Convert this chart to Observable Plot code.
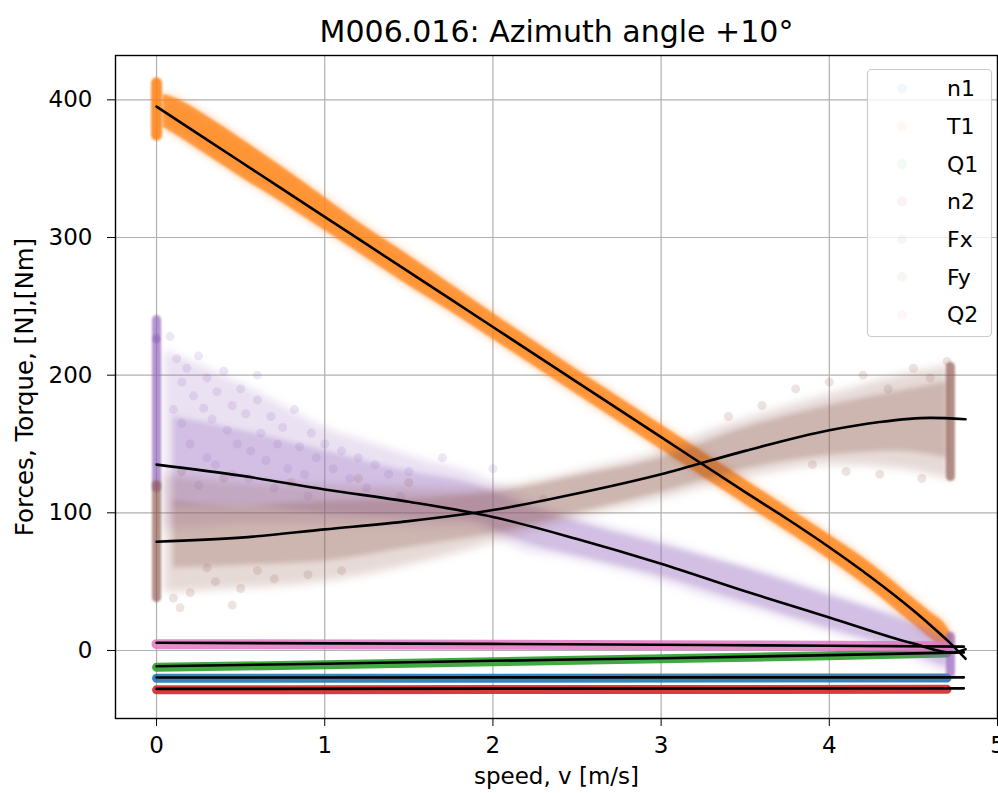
<!DOCTYPE html>
<html>
<head>
<meta charset="utf-8">
<script src="https://cdn.jsdelivr.net/npm/d3@7"></script>
<script src="https://cdn.jsdelivr.net/npm/@observablehq/plot@0.6"></script>
<style>
  html, body { margin: 0; padding: 0; background: white; }
  #chart { width: 998px; height: 793px; }
</style>
</head>
<body>
<div id="chart"></div>
<script>
// ---------- data ----------
const titleText = "M006.016: Azimuth angle +10°";
const xLabel = "speed, v [m/s]";
const yLabel = "Forces, Torque, [N],[Nm]";
const xTicks = [0, 1, 2, 3, 4, 5];
const yTicks = [0, 100, 200, 300, 400];
const xDomain = [-0.244, 5.0];
const yDomain = [-49.4, 432.2];

const seriesNames = ["n1", "T1", "Q1", "n2", "Fx", "Fy", "Q2"];
const seriesColors = ["#1f77b4", "#ff7f0e", "#2ca02c", "#d62728", "#9467bd", "#8c564b", "#e377c2"];

// dense thin clouds (centre of the measured points) [v, value]
const n1Points = [[0, -20.2], [2, -20.1], [4.7, -20.0]];
const n2Points = [[0, -28.6], [2, -28.4], [4.7, -28.2]];
const q1Points = [[0, -12.2], [1, -10.4], [2, -8.2], [3, -6.0], [4, -3.8], [4.7, -1.8]];
const q2Points = [[0, 4.6], [2, 4.2], [4, 3.4], [4.7, 3.0]];

// wide clouds: [v, lower edge, upper edge]
const t1Band = [
  [0.04, 380, 404], [0.15, 372, 399], [0.3, 360, 388], [0.5, 344, 372],
  [0.75, 325, 351], [1.0, 305, 329], [1.25, 285, 307], [1.5, 265, 287],
  [1.75, 246, 266], [2.0, 226, 245], [2.5, 186, 204], [3.0, 146, 164],
  [3.5, 106, 124], [4.0, 66, 84], [4.25, 44, 63], [4.5, 19, 38],
  [4.6, 9, 28], [4.7, 0, 17], [4.73, 2, 10]
];
const fxOuter = [
  [0.05, 88, 218], [0.3, 90, 205], [0.5, 92, 194], [0.75, 92, 178],
  [1.0, 92, 162], [1.3, 92, 150], [1.6, 90, 138], [1.85, 90, 130],
  [2.2, 72, 110], [2.4, 68, 100], [2.7, 60, 90], [3.0, 50, 80],
  [3.3, 38, 68], [3.6, 28, 58], [3.9, 17, 46], [4.2, 6, 34],
  [4.5, -6, 22], [4.65, -14, 14], [4.73, -17, 10]
];
const fxCore = [
  [0.1, 105, 170], [0.5, 105, 160], [1.0, 100, 145], [1.5, 97, 130],
  [1.85, 95, 122], [2.2, 78, 105], [2.6, 66, 90], [3.0, 54, 77],
  [3.5, 35, 60], [4.0, 16, 40], [4.4, 2, 24], [4.7, -12, 8]
];
const fyOuter = [
  [0.05, 42, 128], [0.5, 45, 122], [1.0, 50, 120], [1.5, 62, 118],
  [1.85, 73, 117], [2.2, 86, 122], [2.64, 100, 134], [3.0, 110, 145],
  [3.3, 120, 160], [3.6, 128, 172], [4.0, 135, 186], [4.42, 132, 200],
  [4.72, 124, 207]
];
const fyCore = [
  [0.1, 60, 108], [0.5, 62, 105], [1.0, 65, 108], [1.5, 75, 110],
  [2.0, 85, 115], [2.5, 100, 127], [3.0, 115, 140], [3.5, 132, 162],
  [4.0, 142, 178], [4.4, 145, 188], [4.7, 140, 195]
];

// points recorded at standstill (v = 0) and at top speed: [v, from, to, series]
const clusters = [
  [0, 374, 412, "T1"], [0, 118, 226, "Fx"], [0, 226, 240, "Fx"],
  [0, 38, 120, "Fy"], [4.72, -17, 10, "Fx"], [4.72, 126, 206, "Fy"]
];

// scattered single points [v, value]
const fxDots = [
  [0.08, 228], [0.12, 212], [0.15, 195], [0.18, 205], [0.22, 185], [0.25, 214],
  [0.28, 176], [0.3, 198], [0.33, 168], [0.36, 188], [0.4, 203], [0.42, 160],
  [0.45, 178], [0.48, 150], [0.5, 190], [0.53, 172], [0.56, 145], [0.6, 182],
  [0.62, 158], [0.65, 138], [0.68, 170], [0.72, 150], [0.75, 162], [0.78, 132],
  [0.82, 175], [0.85, 148], [0.88, 128], [0.92, 158], [0.95, 140], [1.0, 150],
  [1.05, 132], [1.1, 145], [1.15, 125], [1.2, 140], [1.25, 118], [1.3, 135],
  [1.38, 128], [1.45, 112], [1.5, 130], [0.2, 150], [0.35, 135], [0.55, 125],
  [0.7, 118], [0.9, 112], [0.15, 165], [0.3, 140], [0.45, 128], [0.1, 175],
  [0.6, 200], [0.25, 120], [2.0, 132], [2.3, 110], [1.7, 140]
];
const fyDots = [
  [0.1, 38], [0.2, 42], [0.35, 50], [0.5, 45], [0.45, 33], [0.7, 52], [0.9, 55],
  [1.1, 58], [0.3, 60], [0.6, 58], [0.15, 130], [0.4, 125], [0.8, 122], [1.2, 125],
  [1.5, 122], [0.14, 31], [3.8, 190], [4.0, 195], [4.2, 200], [4.35, 190],
  [4.5, 205], [4.6, 198], [4.7, 210], [4.1, 130], [4.3, 128], [4.55, 125],
  [3.9, 135], [3.6, 178], [3.4, 170]
];

// fitted curves (black) [v, value]
const n1Fit = [[0, -19.6], [4.8, -19.5]];
const n2Fit = [[0, -27.9], [4.8, -27.5]];
const q1Fit = [[0, -11.5], [1, -9.6], [2, -7.5], [3, -5.6], [4, -3.4], [4.8, -1.4]];
const q2Fit = [[0, 5.6], [2, 4.8], [4, 3.4], [4.8, 2.8]];
const t1Fit = [[0, 395], [0.5, 355], [1, 315], [1.5, 275], [2, 235], [2.5, 195], [3, 155],
               [3.5, 115], [3.75, 95.5], [4, 75], [4.25, 53], [4.5, 29], [4.6, 18.5],
               [4.7, 7.5], [4.81, -6]];
const fxFit = [[0, 135], [0.5, 127], [1, 117], [1.5, 108], [2, 97], [2.5, 81], [3, 63],
               [3.5, 43], [4, 24], [4.5, 5], [4.73, -1.5], [4.81, 1]];
const fyFit = [[0, 79], [0.5, 82], [1, 88], [1.5, 94], [2, 102], [2.5, 114], [3, 128],
               [3.5, 145], [4, 160], [4.3, 166], [4.6, 169], [4.81, 168]];

// ---------- drawing ----------
const col = name => seriesColors[seriesNames.indexOf(name)];
const asBand = arr => arr.map(d => ({v: d[0], lo: d[1], hi: d[2]}));
const asXY = arr => arr.map(d => ({v: d[0], val: d[1]}));
const blurred = px => (index, scales, values, dims, context, next) => {
  const g = next(index, scales, values, dims, context);
  if (g && px > 0) g.style.filter = `blur(${px}px)`;
  return g;
};

const bandArea = (data, name, op, px) => Plot.areaY(asBand(data), {
  x: "v", y1: "lo", y2: "hi", curve: "monotone-x",
  fill: col(name), fillOpacity: op, render: blurred(px)
});
const thickLine = (data, name, w, op) => Plot.line(asXY(data), {
  x: "v", y: "val", stroke: col(name), strokeWidth: w,
  strokeOpacity: op, strokeLinecap: "round", curve: "monotone-x", render: blurred(0.6)
});
const fitLine = data => Plot.line(asXY(data), {
  x: "v", y: "val", stroke: "black", strokeWidth: 2.6, curve: "monotone-x"
});
const clusterRule = (name, w, op) => Plot.ruleX(
  clusters.filter(c => c[3] === name).map(c => ({v: c[0], lo: c[1], hi: c[2]})), {
  x: "v", y1: "lo", y2: "hi", stroke: col(name),
  strokeWidth: w, strokeOpacity: op, strokeLinecap: "round", render: blurred(1.2)
});
const dots = (data, name, op) => Plot.dot(asXY(data), {
  x: "v", y: "val", r: 4.5, fill: col(name), fillOpacity: op, stroke: "none"
});

const svg = Plot.plot({
  width: 998, height: 793,
  marginLeft: 115, marginRight: 1, marginTop: 55, marginBottom: 75,
  x: {domain: xDomain},
  y: {domain: yDomain},
  style: {fontFamily: "DejaVu Sans", fontSize: "22px", color: "black", background: "white", overflow: "visible"},
  marks: [
    Plot.ruleX(xTicks, {stroke: "#b0b0b0", strokeWidth: 1.2}),
    Plot.ruleY(yTicks, {stroke: "#b0b0b0", strokeWidth: 1.2}),
    // n1
    thickLine(n1Points, "n1", 9, 0.9),
    // T1
    bandArea(t1Band, "T1", 0.45, 4),
    bandArea(t1Band, "T1", 0.7, 1),
    clusterRule("T1", 11, 0.85),
    // Q1
    thickLine(q1Points, "Q1", 9, 0.9),
    // n2
    thickLine(n2Points, "n2", 9, 0.9),
    // Fx
    bandArea(fxOuter, "Fx", 0.2, 4),
    bandArea(fxCore, "Fx", 0.28, 2.5),
    dots(fxDots, "Fx", 0.16),
    clusterRule("Fx", 9, 0.7),
    // Fy
    bandArea(fyOuter, "Fy", 0.22, 4),
    bandArea(fyCore, "Fy", 0.28, 2.5),
    dots(fyDots, "Fy", 0.16),
    clusterRule("Fy", 9, 0.65),
    // Q2
    thickLine(q2Points, "Q2", 10, 0.85),
    // fits
    fitLine(n1Fit), fitLine(n2Fit), fitLine(q1Fit), fitLine(q2Fit),
    fitLine(t1Fit), fitLine(fxFit), fitLine(fyFit),
    Plot.frame({stroke: "black", strokeWidth: 1.4}),
    Plot.axisX(xTicks, {tickSize: 8, tickPadding: 10, fontSize: 23, tickFormat: d => String(d), label: null, stroke: "black"}),
    Plot.axisY(yTicks, {tickSize: 8, tickPadding: 15, fontSize: 23, tickFormat: d => String(d), label: null, stroke: "black"}),
    Plot.text([titleText], {frameAnchor: "top", dy: -35, fontSize: 30, text: d => d}),
    Plot.text([xLabel], {frameAnchor: "bottom", dy: 65, fontSize: 23, text: d => d}),
    Plot.text([yLabel], {frameAnchor: "left", dx: -90, rotate: -90, textAnchor: "middle", fontSize: 24.5, text: d => d})
  ]
});

// legend (matplotlib style)
const root = d3.select(svg);
const lg = root.append("g").attr("text-anchor", "start");
lg.append("rect").attr("x", 867.5).attr("y", 69.5).attr("width", 124).attr("height", 267)
  .attr("rx", 4).attr("fill", "white").attr("fill-opacity", 0.8)
  .attr("stroke", "#cccccc").attr("stroke-width", 1.2);
seriesNames.forEach((name, i) => {
  const cy = 88.5 + i * 37.7;
  lg.append("circle").attr("cx", 902).attr("cy", cy).attr("r", 5)
    .attr("fill", seriesColors[i]).attr("fill-opacity", 0.06);
  lg.append("text").attr("x", 947).attr("y", cy).attr("dy", "0.35em")
    .attr("text-anchor", "start")
    .attr("font-family", "DejaVu Sans").attr("font-size", 22).attr("fill", "black")
    .text(name);
});

document.getElementById("chart").appendChild(svg);
</script>
</body>
</html>
